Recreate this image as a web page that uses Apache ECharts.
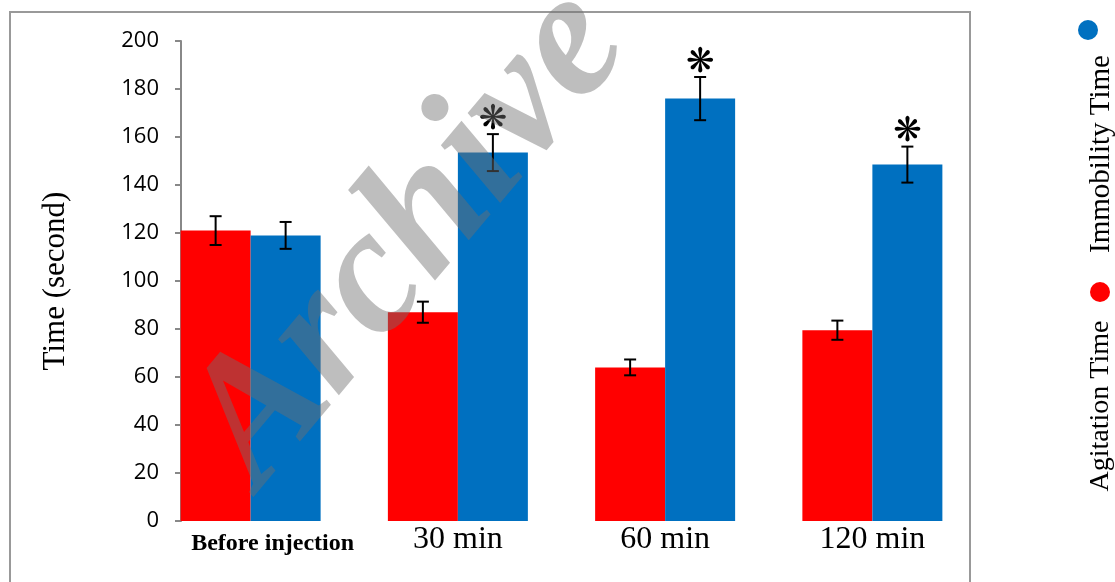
<!DOCTYPE html>
<html>
<head>
<meta charset="utf-8">
<script src="https://cdn.jsdelivr.net/npm/echarts@6/dist/echarts.min.js"></script>
<style>
  html, body { margin: 0; padding: 0; background: #fff; }
  #chart { width: 1115px; height: 582px; }
</style>
</head>
<body>
<div id="chart"></div>
<script>
// data
const categories = ['Before injection', '30 min', '60 min', '120 min'];
const agitation = [121, 87, 64, 79.5];
const agitationErr = [6, 4.4, 3.3, 4];
const immobility = [119, 153.5, 176, 148.5];
const immobilityErr = [5.6, 7.7, 9, 7.5];
const significant = [false, true, true, true];

const myChart = echarts.init(document.getElementById('chart'));

const halfBar = 35;

// error bars (and significance marks) drawn over each bar
function errorSeries(name, values, errs, shift, marks) {
  return {
    type: 'custom',
    name: name + ' error',
    z: 5,
    silent: true,
    data: values.map((v, i) => [i, v, errs[i], marks ? (marks[i] ? 1 : 0) : 0]),
    renderItem: function (params, api) {
      const i = api.value(0);
      const v = api.value(1);
      const e = api.value(2);
      const top = api.coord([i, v + e]);
      const bot = api.coord([i, v - e]);
      const x = top[0] + shift;
      const cap = 6;
      const style = { stroke: '#000', lineWidth: 2 };
      const children = [
        { type: 'line', shape: { x1: x, y1: top[1], x2: x, y2: bot[1] }, style: style },
        { type: 'line', shape: { x1: x - cap, y1: top[1], x2: x + cap, y2: top[1] }, style: style },
        { type: 'line', shape: { x1: x - cap, y1: bot[1], x2: x + cap, y2: bot[1] }, style: style }
      ];
      if (api.value(3)) {
        children.push({
          type: 'text',
          style: {
            text: '\u274B', x: x, y: top[1] + 3,
            align: 'center', verticalAlign: 'bottom',
            font: '34px "DejaVu Sans"', fill: '#000'
          }
        });
      }
      return { type: 'group', children: children };
    }
  };
}

const option = {
  animation: false,
  grid: { left: 147, right: 139, top: 41, bottom: 61 },
  xAxis: {
    type: 'category',
    data: categories,
    axisLine: { show: false },
    axisTick: { show: false },
    axisLabel: {
      margin: 3,
      formatter: function (v, i) {
        return i === 0 ? '{a|' + v + '}' : '{b|' + v + '}';
      },
      rich: {
        a: { fontFamily: 'Liberation Serif', fontWeight: 'bold', fontSize: 24, color: '#000', padding: [8, 0, 0, 44] },
        b: { fontFamily: 'Liberation Serif', fontSize: 32, color: '#000' }
      }
    }
  },
  yAxis: {
    type: 'value',
    min: 0,
    max: 200,
    interval: 20,
    offset: -34,
    name: 'Time (second)',
    nameLocation: 'middle',
    nameGap: 110,
    nameTextStyle: { fontFamily: 'Liberation Serif', fontSize: 31, color: '#000' },
    axisLine: { show: true, lineStyle: { color: '#888', width: 2 } },
    axisTick: { show: true, length: 6, lineStyle: { color: '#888', width: 2 } },
    splitLine: { show: false },
    axisLabel: { margin: 22, fontFamily: 'Open Sans', fontSize: 22, color: '#000' }
  },
  series: [
    {
      name: 'Agitation Time',
      type: 'bar',
      data: agitation,
      barWidth: 70,
      barGap: '0%',
      itemStyle: { color: '#ff0000' }
    },
    {
      name: 'Immobility Time',
      type: 'bar',
      data: immobility,
      barWidth: 70,
      itemStyle: { color: '#0070c0' }
    },
    errorSeries('Agitation Time', agitation, agitationErr, -halfBar, null),
    errorSeries('Immobility Time', immobility, immobilityErr, halfBar, significant)
  ],
  graphic: [
    {
      type: 'rect',
      z: 0,
      shape: { x: 10, y: 12, width: 960, height: 600 },
      style: { fill: 'none', stroke: '#999', lineWidth: 2 }
    },
    // legend, written sideways
    { type: 'circle', shape: { cx: 1100, cy: 292, r: 10 }, style: { fill: '#ff0000' } },
    {
      type: 'text', x: 1101, y: 406, rotation: Math.PI / 2,
      style: { text: 'Agitation Time', font: '28px "Liberation Serif"', fill: '#000', align: 'center', verticalAlign: 'middle' }
    },
    { type: 'circle', shape: { cx: 1088, cy: 30, r: 10 }, style: { fill: '#0070c0' } },
    {
      type: 'text', x: 1101, y: 154, rotation: Math.PI / 2,
      style: { text: 'Immobility Time', font: '29px "Liberation Serif"', fill: '#000', align: 'center', verticalAlign: 'middle' }
    },
    // watermark
    {
      type: 'text', z: 100, x: 410, y: 238, rotation: 50 * Math.PI / 180,
      style: {
        text: 'Archive', font: 'italic bold 180px "Liberation Serif"',
        fill: 'rgba(110,110,110,0.45)', align: 'center', verticalAlign: 'middle'
      }
    }
  ]
};

myChart.setOption(option);
</script>
</body>
</html>
